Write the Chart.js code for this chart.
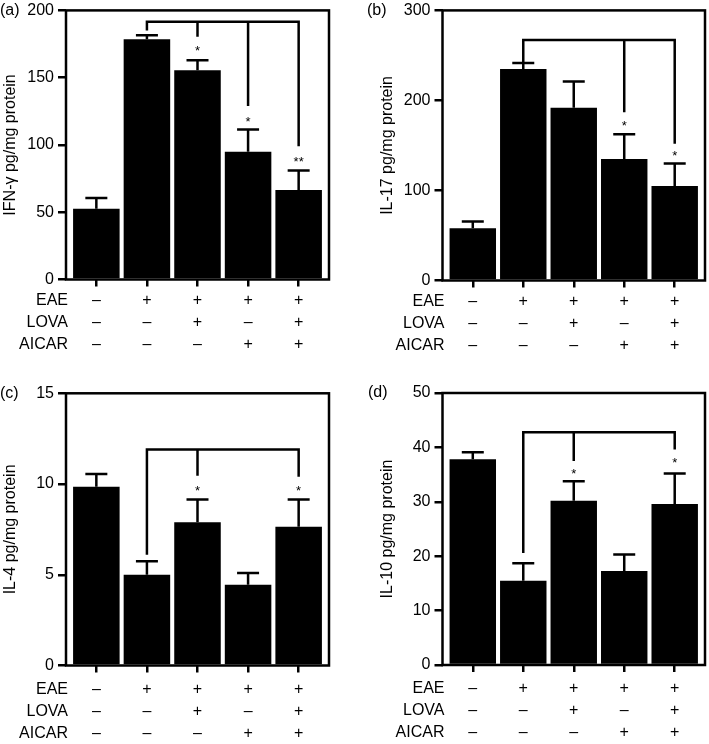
<!DOCTYPE html>
<html>
<head>
<meta charset="utf-8">
<script src="https://cdn.jsdelivr.net/npm/chart.js@4.4.0/dist/chart.umd.min.js"></script>
<style>
  body { margin: 0; background: #fff; width: 709px; height: 744px; position: relative; overflow: hidden; }
  canvas { position: absolute; }
</style>
</head>
<body>
<canvas id="ca" width="355" height="372" style="left:0;top:0"></canvas>
<canvas id="cb" width="354" height="372" style="left:355px;top:0"></canvas>
<canvas id="cc" width="355" height="372" style="left:0;top:372px"></canvas>
<canvas id="cd" width="354" height="372" style="left:355px;top:372px"></canvas>
<script>
// groups (x positions) and the +/- treatment table
const groups = [0, 1, 2, 3, 4];
const rowNames = ["EAE", "LOVA", "AICAR"];
const eae = ["–", "+", "+", "+", "+"];
const lova = ["–", "–", "+", "–", "+"];
const aicar = ["–", "–", "–", "+", "+"];

// (a) IFN-gamma
const ifnMean = [52.5, 178.5, 155.5, 95, 66.5];
const ifnSem = [8, 3, 7.5, 16.5, 14.5];
const ifnTicks = [0, 50, 100, 150, 200];
const ifnBracket = 191.5;
const ifnDropIdx = [1, 2, 3, 4];
const ifnDropEnd = [185, 180.5, 129, 99];
const ifnStarIdx = [2, 3, 4];
const ifnStarY = [172, 119, 89];
const ifnStarText = ["*", "*", "**"];

// (b) IL-17
const il17Mean = [58, 235, 192, 135, 105];
const il17Sem = [7.5, 6.5, 29, 27.5, 25];
const il17Ticks = [0, 100, 200, 300];
const il17Bracket = 267;
const il17DropIdx = [1, 3, 4];
const il17DropEnd = [242, 187, 152];
const il17StarIdx = [3, 4];
const il17StarY = [175, 141];
const il17StarText = ["*", "*"];

// (c) IL-4
const il4Mean = [9.85, 5.0, 7.9, 4.45, 7.65];
const il4Sem = [0.7, 0.75, 1.25, 0.65, 1.5];
const il4Ticks = [0, 5, 10, 15];
const il4Bracket = 11.9;
const il4DropIdx = [1, 2, 4];
const il4DropEnd = [6.1, 10.45, 10.4];
const il4StarIdx = [2, 4];
const il4StarY = [9.75, 9.75];
const il4StarText = ["*", "*"];

// (d) IL-10
const il10Mean = [37.8, 15.5, 30.2, 17.3, 29.6];
const il10Sem = [1.3, 3.2, 3.6, 3.0, 5.6];
const il10Ticks = [0, 10, 20, 30, 40, 50];
const il10Bracket = 42.8;
const il10DropIdx = [1, 2, 4];
const il10DropEnd = [20.6, 37.5, 39.6];
const il10StarIdx = [2, 4];
const il10StarY = [35.6, 37.6];
const il10StarText = ["*", "*"];

const family = '"Liberation Sans", Arial, Helvetica, sans-serif';
const LW = 2.5;
const TICK = 7;
const LINE_H = 22;
Chart.defaults.font.family = family;
Chart.defaults.color = "#000";

function deco(o) {
  return {
    id: "deco",
    afterDraw(chart) {
      const c = chart.ctx;
      const a = chart.chartArea;
      const xs = chart.scales.x;
      const ys = chart.scales.y;
      const bars = chart.getDatasetMeta(0).data;
      c.save();
      c.strokeStyle = "#000";
      c.fillStyle = "#000";
      c.lineWidth = LW;
      c.lineCap = "butt";
      // frame
      c.strokeRect(a.left, a.top, a.right - a.left, a.bottom - a.top);
      // error bars (upper only)
      o.mean.forEach(function (m, i) {
        const x = bars[i].x;
        const y1 = ys.getPixelForValue(m);
        const y2 = ys.getPixelForValue(m + o.sem[i]);
        c.beginPath();
        c.moveTo(x, y1);
        c.lineTo(x, y2);
        c.moveTo(x - 11, y2);
        c.lineTo(x + 11, y2);
        c.stroke();
      });
      // significance bracket
      const by = ys.getPixelForValue(o.bracket);
      const x0 = xs.getPixelForValue(o.dropIdx[0]);
      const x1 = xs.getPixelForValue(o.dropIdx[o.dropIdx.length - 1]);
      c.beginPath();
      c.moveTo(x0 - LW / 2, by);
      c.lineTo(x1 + LW / 2, by);
      o.dropIdx.forEach(function (g, k) {
        const x = xs.getPixelForValue(g);
        c.moveTo(x, by);
        c.lineTo(x, ys.getPixelForValue(o.dropEnd[k]));
      });
      c.stroke();
      // stars
      c.font = "13px " + family;
      c.textAlign = "center";
      c.textBaseline = "middle";
      o.starIdx.forEach(function (g, k) {
        c.fillText(o.starText[k], xs.getPixelForValue(g), ys.getPixelForValue(o.starY[k]) + 3);
      });
      // row names of the treatment table
      c.font = "16px " + family;
      c.textAlign = "right";
      rowNames.forEach(function (r, k) {
        c.fillText(r, a.left + 2, a.bottom + TICK + o.rowPad + LINE_H * (k + 0.5));
      });
      // panel letter
      c.textAlign = "left";
      c.fillText(o.letter, o.letterX, a.top);
      c.restore();
    }
  };
}

function panel(id, o) {
  return new Chart(document.getElementById(id), {
    type: "bar",
    data: {
      datasets: [{
        data: groups.map(function (g, i) { return { x: g, y: o.mean[i] }; }),
        backgroundColor: "#000",
        borderWidth: 0,
        barPercentage: 0.92,
        categoryPercentage: 1
      }]
    },
    options: {
      responsive: false,
      animation: false,
      layout: { padding: { left: o.padL, right: o.padR, top: o.top, bottom: 0 } },
      plugins: { legend: { display: false }, tooltip: { enabled: false } },
      scales: {
        x: {
          type: "linear",
          min: -0.6,
          max: 4.6,
          offset: false,
          afterBuildTicks: function (s) { s.ticks = groups.map(function (v) { return { value: v }; }); },
          afterFit: function (s) { s.height = o.xH; },
          border: { display: false },
          grid: { offset: false, drawOnChartArea: false, color: "#000", lineWidth: LW, tickLength: TICK },
          ticks: {
            color: "#000",
            font: { size: 16, lineHeight: LINE_H / 16 },
            padding: o.rowPad,
            maxRotation: 0,
            autoSkip: false,
            callback: function (v) { return [eae[v], lova[v], aicar[v]]; }
          }
        },
        y: {
          min: 0,
          max: o.ticks[o.ticks.length - 1],
          afterBuildTicks: function (s) { s.ticks = o.ticks.map(function (v) { return { value: v }; }); },
          afterFit: function (s) { s.width = o.yW; },
          border: { display: false },
          grid: { drawOnChartArea: false, color: "#000", lineWidth: LW, tickLength: 8 },
          ticks: { color: "#000", font: { size: 16, lineHeight: 0.8 }, padding: 4 },
          title: { display: true, text: o.title, color: "#000", font: { size: 16 }, padding: { top: 0, bottom: 0 } }
        }
      }
    },
    plugins: [deco(o)]
  });
}

panel("ca", {
  mean: ifnMean, sem: ifnSem, ticks: ifnTicks, title: "IFN-γ pg/mg protein",
  bracket: ifnBracket, dropIdx: ifnDropIdx, dropEnd: ifnDropEnd,
  starIdx: ifnStarIdx, starY: ifnStarY, starText: ifnStarText,
  letter: "(a)", letterX: 0, padL: 1, padR: 26, top: 9.3, xH: 92.5, yW: 65, rowPad: 3
});
panel("cb", {
  mean: il17Mean, sem: il17Sem, ticks: il17Ticks, title: "IL-17 pg/mg protein",
  bracket: il17Bracket, dropIdx: il17DropIdx, dropEnd: il17DropEnd,
  starIdx: il17StarIdx, starY: il17StarY, starText: il17StarText,
  letter: "(b)", letterX: 12, padL: 22.5, padR: 4, top: 9, xH: 91.5, yW: 65, rowPad: 3
});
panel("cc", {
  mean: il4Mean, sem: il4Sem, ticks: il4Ticks, title: "IL-4 pg/mg protein",
  bracket: il4Bracket, dropIdx: il4DropIdx, dropEnd: il4DropEnd,
  starIdx: il4StarIdx, starY: il4StarY, starText: il4StarText,
  letter: "(c)", letterX: 0, padL: 1, padR: 26, top: 21.3, xH: 78.5, yW: 65, rowPad: 6
});
panel("cd", {
  mean: il10Mean, sem: il10Sem, ticks: il10Ticks, title: "IL-10 pg/mg protein",
  bracket: il10Bracket, dropIdx: il10DropIdx, dropEnd: il10DropEnd,
  starIdx: il10StarIdx, starY: il10StarY, starText: il10StarText,
  letter: "(d)", letterX: 13, padL: 22.5, padR: 4, top: 21, xH: 79, yW: 65, rowPad: 6
});
</script>
</body>
</html>
